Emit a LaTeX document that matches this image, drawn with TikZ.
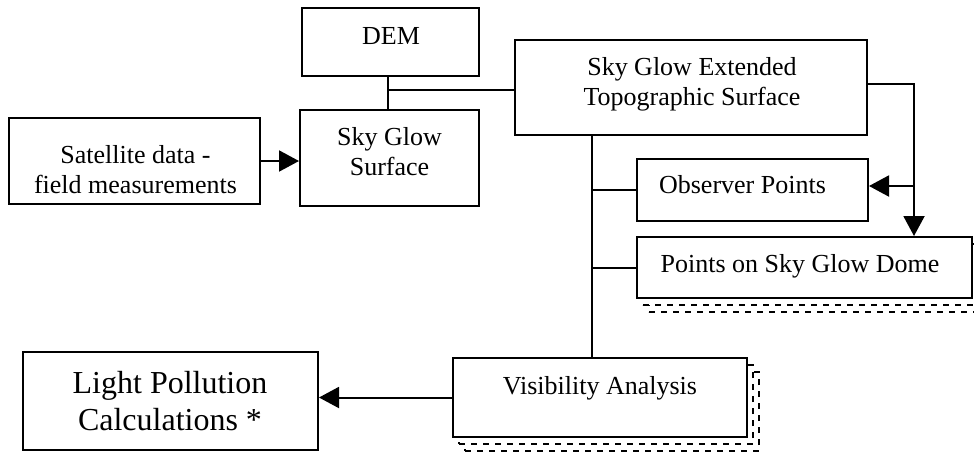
\documentclass[tikz,border=0pt]{standalone}
\usepackage{fontspec}
\setmainfont{Liberation Serif}
\usepackage{tikz}
\usetikzlibrary{arrows.meta,shadows}

\tikzset{
  box/.style={draw,line width=1pt,fill=white,rectangle,inner sep=0pt},
  docstack/.style={double copy shadow={shadow xshift=3pt,shadow yshift=-3.5pt,dashed,line width=1pt,draw=black,fill=white}},
  txt/.style={anchor=base,align=center,inner sep=0pt,font=\fontsize{13}{15}\selectfont},
  bigtxt/.style={anchor=base,align=center,inner sep=0pt,font=\fontsize{16}{18.5}\selectfont},
  line/.style={line width=1pt},
  arr/.style={line width=1pt,-{Triangle[length=10pt,width=10.5pt]}}
}

\begin{document}
\begin{tikzpicture}[x=0.5pt,y=-0.5pt]

\useasboundingbox (0,0) rectangle (974,451);

% Input boxes
\node[box,minimum width=125.5pt,minimum height=43pt] (sat) at (134.5,161) {};
\node[txt] (sat-t) at (135.5,193) {Satellite data -\\field measurements};

\node[box,minimum width=88.5pt,minimum height=34pt] (dem) at (390.5,42) {};
\node[txt] (dem-t) at (391,44) {DEM};

\node[box,minimum width=89.5pt,minimum height=48pt] (sgs) at (389.5,158) {};
\node[txt] (sgs-t) at (389.5,175) {Sky Glow\\Surface};

% Extended surface
\node[box,minimum width=176pt,minimum height=47.5pt] (sgets) at (691,87.5) {};
\node[txt] (sgets-t) at (692,105) {Sky Glow Extended\\Topographic Surface};

% Points
\node[box,minimum width=115.5pt,minimum height=31pt] (obs) at (752.5,190) {};
\node[txt] (obs-t) at (742.5,193) {Observer Points};

\node[box,docstack,minimum width=167.5pt,minimum height=30.5pt] (dome) at (804.5,267.5) {};
\node[txt] (dome-t) at (800,272) {Points on Sky Glow Dome};

% Analysis and result
\node[box,docstack,minimum width=147pt,minimum height=39.5pt] (vis) at (600,397.5) {};
\node[txt] (vis-t) at (600,394) {Visibility Analysis};

\node[box,minimum width=147.5pt,minimum height=49pt] (lpc) at (170.5,401) {};
\node[bigtxt] (lpc-t) at (170,430) {Light Pollution\\Calculations *};

% Junction points
\coordinate (jdem) at (388,90);
\coordinate (rt) at (914,84);
\coordinate (rtobs) at (914,186);
\coordinate (trunk) at (592,135);

% Connectors
\draw[arr] (sat.east) -- (sat.east -| sgs.west);
\draw[line] (jdem |- dem.south) -- (jdem |- sgs.north);
\draw[line] (jdem) -- (jdem -| sgets.west);
\draw[arr] (rt -| sgets.east) -- (rt) -- (rt |- dome.north);
\draw[arr] (rtobs) -- (rtobs -| obs.east);
\draw[line] (trunk) -- (trunk |- vis.north);
\draw[line] (trunk |- obs.west) -- (obs.west);
\draw[line] (trunk |- dome.west) -- (dome.west);
\draw[arr] (vis.west) -- (vis.west -| lpc.east);

\end{tikzpicture}
\end{document}
